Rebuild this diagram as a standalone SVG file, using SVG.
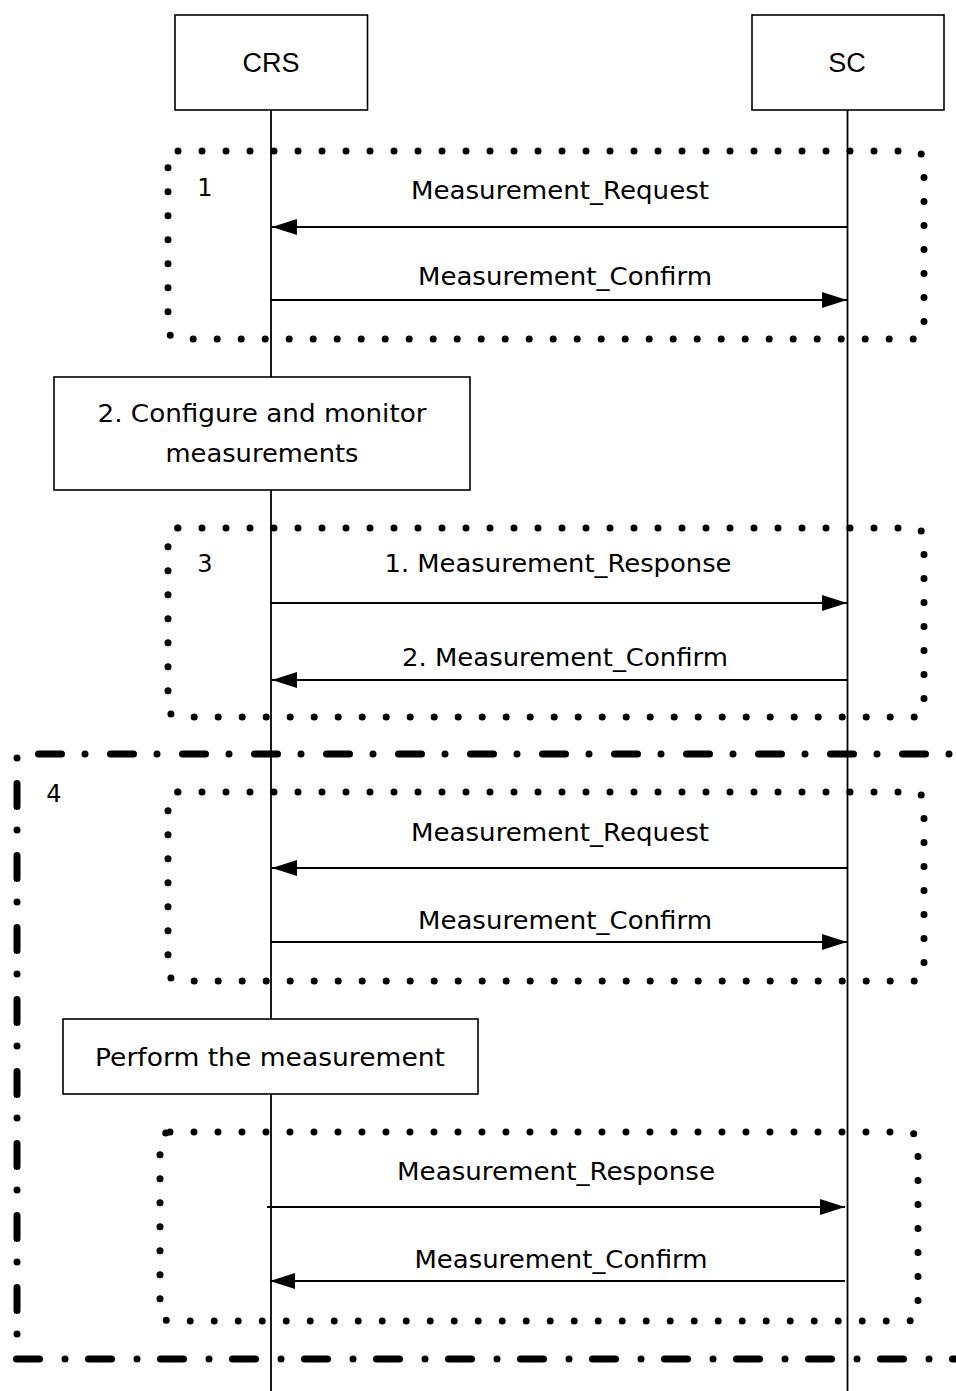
<svg xmlns="http://www.w3.org/2000/svg" width="956" height="1391" viewBox="0 0 956 1391">
<style>
.box{fill:#fff;stroke:#000;stroke-width:1.6}
.life{stroke:#000;stroke-width:1.8;fill:none}
.msg{stroke:#000;stroke-width:1.8;fill:none}
.dot{fill:none;stroke:#000;stroke-width:7;stroke-dasharray:0 24;stroke-linecap:round}
.dd{fill:none;stroke:#000;stroke-width:7;stroke-linecap:round}
.t{font-family:"DejaVu Sans",sans-serif;font-size:24px;fill:#000}
.h{font-family:"Liberation Sans",Arial,sans-serif;font-size:27px;fill:#000;text-anchor:middle}
.c{text-anchor:middle}
</style>
<defs>
<marker id="ah" markerUnits="userSpaceOnUse" markerWidth="26" markerHeight="16" refX="25" refY="8" orient="auto">
<path d="M0,0 L25,8 L0,16 z" fill="#000"/>
</marker>
</defs>
<rect width="956" height="1391" fill="#fff"/>
<g id="lifelines">
<line class="life" x1="271" y1="110" x2="271" y2="1391"/>
<line class="life" x1="847.5" y1="110" x2="847.5" y2="1391"/>
</g>
<g id="frames">
<rect class="dot" x="168" y="151" width="756" height="188" rx="10"/>
<text class="t c" x="205" y="196">1</text>
<rect class="dot" x="168" y="528" width="756" height="189" rx="10"/>
<text class="t c" x="205" y="572">3</text>
<path class="dd" d="M38.5 754 H960" stroke-dasharray="23 23.5 0 25.5"/>
<path class="dd" d="M17 758 V1352" stroke-dasharray="0 25.5 23 23.5"/>
<path class="dd" d="M16.5 1359 H960" stroke-dasharray="23 25.5 0 23.5"/>
<text class="t c" x="54" y="802">4</text>
<rect class="dot" x="168" y="792" width="756" height="189" rx="10"/>
<rect class="dot" x="160" y="1132" width="758" height="189" rx="10"/>
</g>
<g id="CRS">
<rect class="box" x="175" y="15" width="192.5" height="95"/>
<text class="h" x="271" y="72">CRS</text>
</g>
<g id="SC">
<rect class="box" x="752" y="15" width="192" height="95"/>
<text class="h" x="847" y="72">SC</text>
</g>
<g id="configure">
<rect class="box" x="54" y="377" width="416" height="113"/>
<text class="t c" x="262" y="422" textLength="329" lengthAdjust="spacingAndGlyphs">2. Configure and monitor</text>
<text class="t c" x="262" y="462" textLength="193" lengthAdjust="spacingAndGlyphs">measurements</text>
</g>
<g id="perform">
<rect class="box" x="63" y="1019" width="415" height="75"/>
<text class="t c" x="270" y="1066" textLength="350" lengthAdjust="spacingAndGlyphs">Perform the measurement</text>
</g>
<g id="connectors">
<line class="msg" x1="847.5" y1="227" x2="272" y2="227" marker-end="url(#ah)"/>
<line class="msg" x1="271" y1="300" x2="847" y2="300" marker-end="url(#ah)"/>
<line class="msg" x1="271" y1="603" x2="847" y2="603" marker-end="url(#ah)"/>
<line class="msg" x1="847.5" y1="680" x2="272" y2="680" marker-end="url(#ah)"/>
<line class="msg" x1="847.5" y1="868" x2="272" y2="868" marker-end="url(#ah)"/>
<line class="msg" x1="271" y1="942" x2="847" y2="942" marker-end="url(#ah)"/>
<line class="msg" x1="267" y1="1207" x2="845" y2="1207" marker-end="url(#ah)"/>
<line class="msg" x1="845" y1="1281" x2="270" y2="1281" marker-end="url(#ah)"/>
</g>
<g id="labels">
<text class="t c" x="560" y="199" textLength="298" lengthAdjust="spacingAndGlyphs">Measurement_Request</text>
<text class="t c" x="565" y="285" textLength="294" lengthAdjust="spacingAndGlyphs">Measurement_Confirm</text>
<text class="t c" x="558" y="572" textLength="347" lengthAdjust="spacingAndGlyphs">1. Measurement_Response</text>
<text class="t c" x="565" y="666" textLength="326" lengthAdjust="spacingAndGlyphs">2. Measurement_Confirm</text>
<text class="t c" x="560" y="841" textLength="298" lengthAdjust="spacingAndGlyphs">Measurement_Request</text>
<text class="t c" x="565" y="929" textLength="294" lengthAdjust="spacingAndGlyphs">Measurement_Confirm</text>
<text class="t c" x="556" y="1180" textLength="318" lengthAdjust="spacingAndGlyphs">Measurement_Response</text>
<text class="t c" x="561" y="1268" textLength="293" lengthAdjust="spacingAndGlyphs">Measurement_Confirm</text>
</g>
</svg>
